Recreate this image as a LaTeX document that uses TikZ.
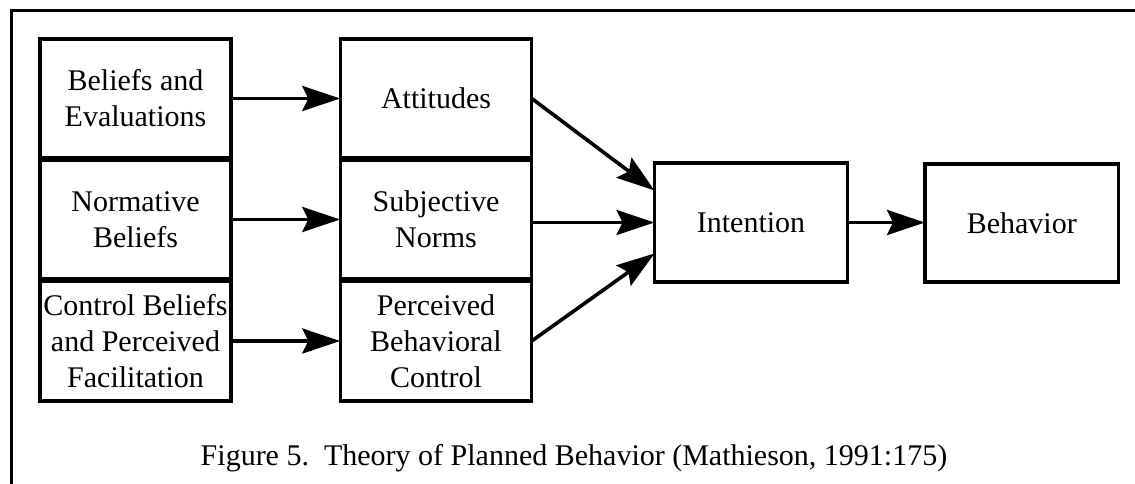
\documentclass[tikz,border=0pt]{standalone}
\usepackage{fontspec}
\setmainfont{Liberation Serif}
\usetikzlibrary{arrows.meta}

\begin{document}
\begin{tikzpicture}[x=1pt,y=-1pt,
  box/.style={draw, line width=3.2pt, inner sep=0pt, outer sep=0pt,
    align=center, font=\fontsize{30}{36}\selectfont},
  link/.style={line width=3.6pt,
    -{Stealth[length=38pt,width=25pt,inset=6pt]}},
]
\useasboundingbox (0,0) rectangle (1135,484);

% open frame: top and left edges only
\draw[line width=3pt] (11,484) -- (11,11) -- (1135,11);

% antecedent beliefs
\node[box, minimum width=191pt, minimum height=119pt] (bel) at (135.5,98.5)
  {Beliefs and\\Evaluations};
\node[box, minimum width=191pt, minimum height=119pt] (nb) at (135.5,219.5)
  {Normative\\Beliefs};
\node[box, minimum width=191pt, minimum height=120pt] (cb) at (135.5,341)
  {Control Beliefs\\and Perceived\\Facilitation};

% determinants of intention
\node[box, minimum width=191.5pt, minimum height=119pt] (att) at (436,98.5)
  {Attitudes};
\node[box, minimum width=191.5pt, minimum height=119pt] (sn) at (436,219.5)
  {Subjective\\Norms};
\node[box, minimum width=191.5pt, minimum height=120pt] (pbc) at (436,341)
  {Perceived\\Behavioral\\Control};

% intention and behaviour
\node[box, minimum width=193pt, minimum height=119pt] (int) at (751,222.5)
  {Intention};
\node[box, minimum width=193.5pt, minimum height=118pt] (beh) at (1021.75,223)
  {Behavior};

% connectors
\draw[link] (bel.east) -- (att.west);
\draw[link] (nb.east) -- (sn.west);
\draw[link] (cb.east) -- (pbc.west);
\draw[link] (att.east) -- ([yshift=32pt]int.west);
\draw[link] (sn.east |- int.west) -- (int.west);
\draw[link] (pbc.east) -- ([yshift=-31pt]int.west);
\draw[link] (int.east) -- (beh.west |- int.east);

% caption
\node[anchor=base, inner sep=0pt, font=\fontsize{30}{36}\selectfont] (cap) at (574,465)
  {Figure 5.\ \ Theory of Planned Behavior (Mathieson, 1991:175)};
\end{tikzpicture}
\end{document}
